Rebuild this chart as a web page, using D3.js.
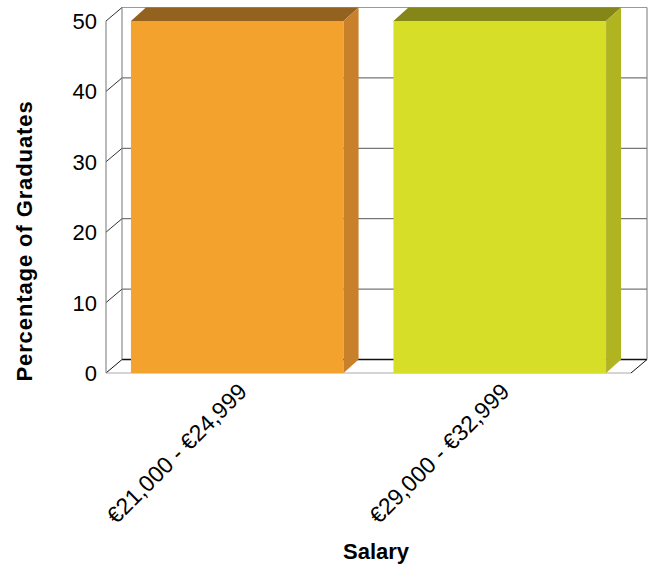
<!DOCTYPE html>
<html>
<head>
<meta charset="utf-8">
<script src="https://cdn.jsdelivr.net/npm/d3@7"></script>
<style>
  html, body { margin: 0; padding: 0; background: #fff; }
  svg { display: block; font-family: "Liberation Sans", Arial, sans-serif; }
</style>
</head>
<body>
<svg id="chart" width="655" height="566"></svg>
<script>
const categories = ["€21,000 - €24,999", "€29,000 - €32,999"];
const values = [50, 50];
const yTicks = [0, 10, 20, 30, 40, 50];
const frontColors = ["#F4A22E", "#D7DE28"];
const topColors = ["#94621F", "#848618"];
const sideColors = ["#C8812A", "#B0B420"];
const xTitle = "Salary";
const yTitle = "Percentage of Graduates";

(function () {
const svg = d3.select("#chart");
const pLeft = 106, pRight = 631, pBottom = 373, pTop = 21;
const dx = 16, dy = -13.5;      // wall depth
const bdx = 15, bdy = -13.5;    // bar depth

const x = d3.scaleBand().domain(categories).range([pLeft, pRight])
  .paddingInner(0.19).paddingOuter(0.095);
const y = d3.scaleLinear().domain([0, 50]).range([pBottom, pTop]);

const g = svg.append("g");

// back wall gridlines
g.selectAll("line.grid").data(yTicks).join("line")
  .attr("class", "grid")
  .attr("x1", pLeft + dx).attr("x2", pRight + dx)
  .attr("y1", d => y(d) + dy).attr("y2", d => y(d) + dy)
  .attr("stroke", d => d === 0 ? "#111" : (d === 50 ? "#999" : "#555"))
  .attr("stroke-width", d => d === 0 ? 1.6 : 1);

// left wall diagonals
g.selectAll("line.diag").data(yTicks).join("line")
  .attr("class", "diag")
  .attr("x1", pLeft).attr("y1", d => y(d))
  .attr("x2", pLeft + dx).attr("y2", d => y(d) + dy)
  .attr("stroke", d => d === 0 ? "#111" : "#333")
  .attr("stroke-width", 1);

// back wall verticals
g.append("line").attr("x1", pLeft + dx).attr("x2", pLeft + dx)
  .attr("y1", y(50) + dy).attr("y2", y(0) + dy).attr("stroke", "#777");
g.append("line").attr("x1", pRight + dx).attr("x2", pRight + dx)
  .attr("y1", y(50) + dy).attr("y2", y(0) + dy).attr("stroke", "#777");
// front axis line
g.append("line").attr("x1", pLeft).attr("x2", pLeft)
  .attr("y1", y(50)).attr("y2", y(0)).attr("stroke", "#777");
// floor front edge and right diagonal
g.append("line").attr("x1", pLeft).attr("x2", pRight)
  .attr("y1", y(0)).attr("y2", y(0)).attr("stroke", "#aaa");
g.append("line").attr("x1", pRight).attr("y1", y(0))
  .attr("x2", pRight + dx).attr("y2", y(0) + dy).attr("stroke", "#111");

// bars
const bars = g.selectAll("g.bar").data(categories).join("g").attr("class", "bar");
bars.each(function(c, i) {
  const sel = d3.select(this);
  const x0 = x(c), bw = x.bandwidth();
  const yv = y(values[i]), y0 = y(0);
  sel.append("rect").attr("x", x0).attr("y", yv).attr("width", bw).attr("height", y0 - yv)
    .attr("fill", frontColors[i]);
  sel.append("polygon")
    .attr("points", [[x0, yv], [x0 + bdx, yv + bdy], [x0 + bw + bdx, yv + bdy], [x0 + bw, yv]].join(" "))
    .attr("fill", topColors[i]);
  sel.append("polygon")
    .attr("points", [[x0 + bw, yv], [x0 + bw + bdx, yv + bdy], [x0 + bw + bdx, y0 + bdy], [x0 + bw, y0]].join(" "))
    .attr("fill", sideColors[i]);
});

// y tick labels
g.selectAll("text.ytick").data(yTicks).join("text")
  .attr("class", "ytick")
  .attr("x", 97).attr("y", d => y(d))
  .attr("dy", "0.36em")
  .attr("text-anchor", "end")
  .attr("font-size", 22)
  .attr("fill", "#000")
  .text(d => d);

// x tick labels
g.selectAll("text.xtick").data(categories).join("text")
  .attr("class", "xtick")
  .attr("text-anchor", "end")
  .attr("font-size", 23)
  .attr("fill", "#000")
  .attr("transform", c => `translate(${x(c) + x.bandwidth() / 2 + 11},393) rotate(-45)`)
  .text(c => c);

// axis titles
svg.append("text")
  .attr("x", 376).attr("y", 559)
  .attr("text-anchor", "middle")
  .attr("font-size", 22).attr("font-weight", "bold")
  .text(xTitle);
svg.append("text")
  .attr("transform", "translate(32,241) rotate(-90)")
  .attr("text-anchor", "middle")
  .attr("font-size", 22).attr("font-weight", "bold")
  .attr("letter-spacing", 0.9)
  .text(yTitle);
})();
</script>
</body>
</html>
